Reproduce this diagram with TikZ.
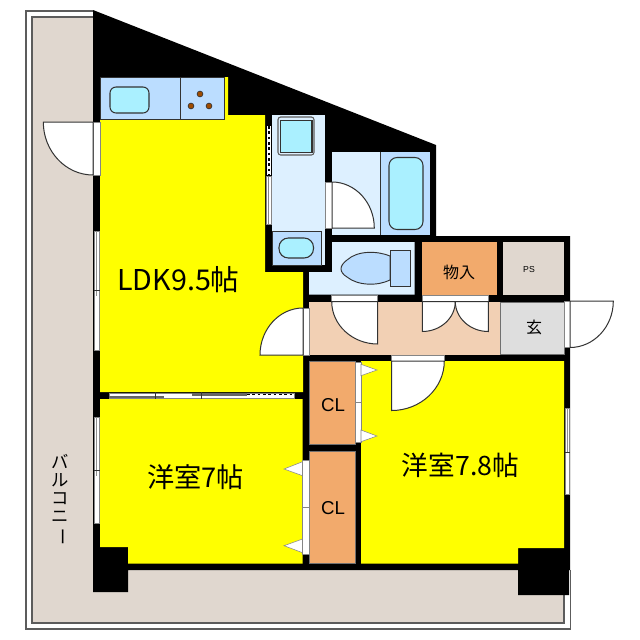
\documentclass[tikz,border=0pt]{standalone}
\usepackage{fontspec}
\setmainfont{Liberation Sans}
\newfontfamily\jpfont{Noto Sans CJK JP}
\usetikzlibrary{calc}
\definecolor{balc}{HTML}{E0D7CF}
\definecolor{room}{HTML}{FFFF00}
\definecolor{wet}{HTML}{DDF0FF}
\definecolor{fixture}{HTML}{BBDDFF}
\definecolor{water}{HTML}{AAF0FF}
\definecolor{closet}{HTML}{F2AA6C}
\definecolor{hall}{HTML}{F2D0B4}
\definecolor{entry}{HTML}{DEDEDE}
\definecolor{edge}{HTML}{333333}
\definecolor{burner}{HTML}{A04C00}
\tikzset{
  areabox/.style={line width=.5pt,draw=edge!70},
  fixturebox/.style={line width=.8pt,draw=edge,fill=fixture},
  basin/.style={line width=.8pt,draw=edge,fill=water,rounded corners=4.5pt},
  doorleaf/.style={line width=.75pt,draw=edge,fill=white},
  opening/.style={line width=.4pt,draw=edge!60,fill=white},
  frameline/.style={line width=.8pt,draw=edge},
  roomlabel/.style={inner sep=0pt,font=\jpfont\fontsize{20}{20}\selectfont},
  smalllabel/.style={inner sep=0pt,font=\jpfont\fontsize{12}{12}\selectfont},
  cllabel/.style={inner sep=0pt,font=\fontsize{14}{14}\selectfont},
}
% hinge, end on axis 1, end on axis 2
\newcommand{\doorat}[3]{\draw[doorleaf] (#1) -- (#2) .. controls ($(#2)+.55*(#3)-.55*(#1)$) and ($(#3)+.55*(#2)-.55*(#1)$) .. (#3) -- cycle;}
\begin{document}
\begin{tikzpicture}[x=.75pt,y=-.75pt]
\useasboundingbox (0,0) rectangle (640,640);
\fill[white] (0,0) rectangle (640,640);
% balcony
\fill[balc] (32,17) -- (93,17) -- (93,570) -- (564,570) -- (564,623) -- (32,623) -- cycle;
\draw[frameline,draw=edge!80] (93,11) -- (26,11) -- (26,629) -- (570.5,629) -- (570.5,570);
\draw[frameline,draw=edge!80] (93,17) -- (32,17) -- (32,623) -- (564,623) -- (564,595);
% structure
\fill[black] (93,10) -- (436,145) -- (436,236) -- (570,236) -- (570,570) -- (569,570) -- (569,595) -- (518,595) -- (518,570) -- (128,570) -- (128,592) -- (93,592) -- cycle;
% LDK
\fill[room] (100,115) -- (224,115) -- (224,77) -- (228,77) -- (228,115) -- (265,115) -- (265,272) -- (303,272) -- (303,392) -- (100,392) -- cycle;
% kitchen
\draw[fixturebox,line width=.5pt] (100,77) rectangle (224,119);
\draw[fixturebox,line width=.7pt] (180,77) -- (180,119);
\draw[basin] (110,87) rectangle (149,113);
\foreach \bx/\by in {200/94,191/106,209/106}{\draw[line width=.5pt,draw=edge,fill=burner] (\bx,\by) circle (2.9);}
% washroom
\fill[wet] (272,115) rectangle (325,265);
\draw[line width=.8pt,draw=edge!80,fill=wet,rounded corners=2pt] (278,117) rectangle (314,155);
\draw[line width=.9pt,draw=edge,fill=water] (280.5,120.5) rectangle (312,152.5);
\draw[fixturebox,line width=.6pt] (272,231) rectangle (321,265);
\draw[basin,rounded corners=7pt] (279,238) rectangle (313.5,258);
% bath
\fill[wet] (332,152) rectangle (380,235);
\fill[fixture] (380,152) rectangle (430,235);
\draw[line width=.6pt,draw=edge] (380.5,152) -- (380.5,235);
\draw[basin,rounded corners=6pt] (389,157.5) rectangle (423,229.5);
% toilet
\fill[wet] (332,242) -- (414.5,242) -- (414.5,294.5) -- (309,294.5) -- (309,272) -- (332,272) -- cycle;
\draw[line width=.7pt,draw=edge,fill=fixture] (390,256) .. controls (378,251) and (358,250) .. (347,260) .. controls (339,266) and (339,272) .. (347,277) .. controls (358,286) and (378,286) .. (390,280) -- cycle;
\draw[line width=.7pt,draw=edge,fill=fixture] (390,250) rectangle (410.5,286.5);
% store, PS
\fill[closet] (421.7,242) rectangle (496.7,294.5);
\fill[balc] (503,242) rectangle (564,294.5);
% hall, entry
\fill[hall] (309,302) rectangle (500,354.5);
\draw[line width=.5pt,draw=edge!70,fill=entry] (500,302) rectangle (564,354.5);
% rooms
\fill[room] (361,361) -- (564,361) -- (564,548) -- (518,548) -- (518,563.5) -- (361,563.5) -- cycle;
\fill[room] (100,399) -- (302.5,399) -- (302.5,563.5) -- (128,563.5) -- (128,547) -- (100,547) -- cycle;
% closets
\draw[areabox,fill=closet] (309,361.5) rectangle (355,444);
\draw[areabox,fill=closet] (309,451) rectangle (355,563.5);
% wall openings and doors
\draw[opening] (93.5,122) rectangle (100,175);
\doorat{93,122}{43.3,122}{93,175}
\draw[opening] (325.7,182) rectangle (332,228);
\doorat{332,228}{332,182}{374.3,228}
\draw[opening] (303,308) rectangle (309,355);
\doorat{303,355}{303,308}{260,355}
\draw[opening] (331.7,295) rectangle (377.7,301.5);
\doorat{377.7,301.5}{331.7,301.5}{377.7,344}
\draw[opening] (422.3,295) rectangle (488.3,301.5);
\doorat{422.3,301.5}{455.3,301.5}{422.3,331.5}
\doorat{488.3,301.5}{455.3,301.5}{488.3,331.5}
\draw[opening] (564.5,301.5) rectangle (570,347.5);
\doorat{570,301.2}{613.3,301.2}{570,347.5}
\draw[opening] (391.7,355) rectangle (444.3,361);
\doorat{391.7,361}{444.3,361}{391.7,410.5}
% closet doors
\draw[opening] (355.5,362.7) rectangle (361,402.7);
\draw[opening] (355.5,402.7) rectangle (361,442.3);
\draw[opening] (361,364.3) -- (377,370) -- (361,375.7) -- cycle;
\draw[opening] (361,430) -- (377,436) -- (361,441.7) -- cycle;
\draw[opening] (302.7,460.7) rectangle (309,507.3);
\draw[opening] (302.7,507.3) rectangle (309,554);
\draw[opening] (302.5,461.7) -- (284,469) -- (302.5,475.7) -- cycle;
\draw[opening] (302.5,539) -- (284,545.7) -- (302.5,552.7) -- cycle;
% windows
\draw[opening] (94.2,231) rectangle (99.2,350);
\draw[opening] (94.2,417) rectangle (99.2,523);
\draw[opening] (565,408) rectangle (569.5,494);
\fill[edge!55] (96.2,231) rectangle (97.2,296);
\fill[edge!55] (96.2,417) rectangle (97.2,476);
\fill[edge!55] (567,408) rectangle (568,453);
\draw[line width=.4pt,draw=edge] (93.5,290.5) -- (100,290.5);
\draw[line width=.4pt,draw=edge] (93.5,470) -- (100,470);
\draw[line width=.4pt,draw=edge] (564.5,452) -- (570,452);
% sliding partition LDK / room
\draw[opening] (109,393) rectangle (294,398);
\fill[edge!75] (109,395.6) rectangle (155,398);
\fill[edge!75] (155,395.6) rectangle (164,398);
\fill[edge!75] (192,393) rectangle (201,395.6);
\fill[edge!75] (202,393) rectangle (247,395.6);
\draw[line width=.8pt,black,dash pattern=on 2pt off 2pt] (247,394.5) -- (294,394.5);
\draw[line width=.5pt,draw=edge] (155,392) -- (155,399) (201.5,392) -- (201.5,399);
% washroom sliding door
\draw[opening] (266,176) rectangle (271,224.5);
\fill[edge!60] (268,176) rectangle (269.2,224.5);
\fill[white] (267.3,126) rectangle (270.8,175);
\draw[line width=.8pt,black,dash pattern=on 2pt off 2pt] (269,126) -- (269,175);
% labels
\node[roomlabel,font=\jpfont\fontsize{21.5}{22}\selectfont] (ldk) at (178.5,280) {LDK9.5帖};
\node[roomlabel,font=\jpfont\fontsize{20.4}{21}\selectfont] (west) at (195.5,477) {洋室7帖};
\node[roomlabel] (east) at (460.5,465) {洋室7.8帖};
\node[smalllabel] (store) at (459,272) {物入};
\node[inner sep=0pt,font=\fontsize{6.5}{7}\selectfont] (ps) at (529,270) {PS};
\node[smalllabel] (genkan) at (534,327) {玄};
\node[cllabel] (cla) at (333,405) {CL};
\node[cllabel] (clb) at (333,508) {CL};
\node[inner sep=0pt,align=center,font=\jpfont\fontsize{13}{13.6}\selectfont] (balcony) at (60,500) {バ\\ル\\コ\\ニ\\\rotatebox[origin=c]{-90}{\reflectbox{ー}}};
\end{tikzpicture}
\end{document}
